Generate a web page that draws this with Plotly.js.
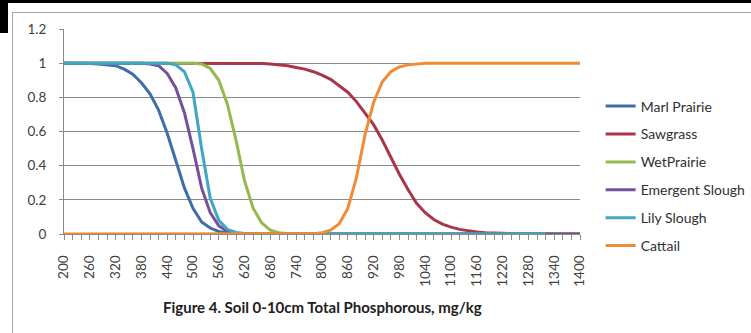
<!DOCTYPE html>
<html>
<head>
<meta charset="utf-8">
<script src="https://cdn.plot.ly/plotly-3.0.1.min.js"></script>
<style>
  html, body { margin: 0; padding: 0; background: #fff; }
  #wrap { position: relative; width: 751px; height: 333px; overflow: hidden; }
  #chart { position: absolute; left: 0; top: 0; width: 751px; height: 333px; }
  .deco { position: absolute; }
</style>
</head>
<body>
<div id="wrap">
  <div id="chart"></div>
  <div class="deco" style="left:12px; top:12px; width:739px; height:1px; background:#a6a6a6;"></div>
  <div class="deco" style="left:12px; top:12px; width:1px; height:321px; background:#a6a6a6;"></div>
  <div class="deco" style="left:0; top:0; width:751px; height:3px; background:#000;"></div>
  <div class="deco" style="left:0; top:0; width:8px; height:33px; background:#000;"></div>
</div>
<script>
const phosphorus = [200,220,240,260,280,300,320,340,360,380,400,420,440,460,480,500,520,540,560,580,600,620,640,660,680,700,720,740,760,780,800,820,840,860,880,900,920,940,960,980,1000,1020,1040,1060,1080,1100,1120,1140,1160,1180,1200,1220,1240,1260,1280,1300,1320,1340,1360,1380,1400];

const marlPrairie = [1,1,1,0.998,0.995,0.99,0.985,0.965,0.935,0.885,0.82,0.725,0.59,0.43,0.27,0.15,0.07,0.035,0.015,0.006,0.002,0.001,
  0,0,0,0,0,0,0,0,0,0,0,0,0,0,0,0,0,0,0,0,0,0,0,0,0,0,0,0,0,0,0,0,0,0,0,0,0,0,0];

const sawgrass = [1,1,1,1,1,1,1,1,1,1,1,1,1,1,1,1,1,1,1,1,1,1,1,
  0.998,0.995,0.99,0.985,0.975,0.965,0.95,0.93,0.905,0.87,0.83,0.775,0.71,0.64,0.55,0.45,0.35,0.26,0.18,0.125,0.085,0.058,0.04,0.027,0.018,0.012,0.008,0.005,0.003,0.001,
  0,0,0,0,0,0,0,0];

const wetPrairie = [1,1,1,1,1,1,1,1,1,1,1,1,1,1,1,1,
  0.995,0.97,0.9,0.76,0.55,0.31,0.15,0.065,0.022,0.007,0.002,
  0,0,0,0,0,0,0,0,0,0,0,0,0,0,0,0,0,0,0,0,0,0,0,0,0,0,0,0,0,0,0,0,0,0];

const emergentSlough = [1,1,1,1,1,1,1,1,1,1,
  0.995,0.985,0.94,0.855,0.71,0.5,0.27,0.125,0.048,0.016,0.005,0.002,
  0,0,0,0,0,0,0,0,0,0,0,0,0,0,0,0,0,0,0,0,0,0,0,0,0,0,0,0,0,0,0,0,0,0,0,0,0,0,0];

const lilySlough = [1,1,1,1,1,1,1,1,1,1,1,1,1,
  0.99,0.95,0.83,0.5,0.21,0.08,0.027,0.009,0.003,0.001,
  0,0,0,0,0,0,0,0,0,0,0,0,0,0,0,0,0,0,0,0,0,0,0,0,0,0,0,0,0,0,0,0,0,0];

const cattail = [0,0,0,0,0,0,0,0,0,0,0,0,0,0,0,0,0,0,0,0,0,0,0,0,0,0,0,0,0,
  0.002,0.008,0.022,0.06,0.15,0.33,0.58,0.77,0.89,0.95,0.978,0.99,0.996,
  1,1,1,1,1,1,1,1,1,1,1,1,1,1,1,1,1,1,1];

const seriesNames = ['Marl Prairie','Sawgrass','WetPrairie','Emergent Slough','Lily Slough','Cattail'];
const seriesValues = [marlPrairie, sawgrass, wetPrairie, emergentSlough, lilySlough, cattail];
const seriesColors = ['#3f6ea6','#a8374c','#95b84f','#74529a','#3fa6c4','#f08c35'];

const xTickVals = [200,260,320,380,440,500,560,620,680,740,800,860,920,980,1040,1100,1160,1220,1280,1340,1400];
const yTickVals = [0,0.2,0.4,0.6,0.8,1,1.2];
const yTickText = ['0','0.2','0.4','0.6','0.8','1','1.2'];
const chartTitle = 'Figure 4. Soil 0-10cm Total Phosphorous, mg/kg';

const FONT = 'Lato, "Open Sans", sans-serif';

const traces = seriesNames.map((name, i) => ({
  type: 'scatter',
  mode: 'lines',
  name: name,
  legendgroup: 'g' + i,
  x: phosphorus,
  y: seriesValues[i],
  line: { color: seriesColors[i], width: 3 },
  hoverinfo: 'x+y+name'
}));

const layout = {
  width: 751,
  height: 333,
  margin: { l: 64, r: 171, t: 29, b: 99, autoexpand: false },
  paper_bgcolor: 'rgba(0,0,0,0)',
  plot_bgcolor: '#fff',
  font: { family: FONT, size: 12, color: '#404040' },
  showlegend: true,
  legend: {
    x: 1.040, xanchor: 'left',
    y: 0.7, yanchor: 'top',
    bgcolor: 'rgba(0,0,0,0)',
    font: { family: FONT, size: 14, color: '#303030' },
    tracegroupgap: 6.7,
    itemwidth: 30
  },
  xaxis: {
    range: [200, 1400],
    tickmode: 'array',
    tickvals: xTickVals,
    ticktext: xTickVals.map(String),
    tickangle: -90,
    ticks: 'outside',
    ticklen: 5,
    tickcolor: '#8a8a8a',
    minor: { tickmode: 'linear', tick0: 200, dtick: 20, ticks: 'outside', ticklen: 5, tickcolor: '#8a8a8a', showgrid: false },
    showline: true,
    linecolor: '#8a8a8a',
    linewidth: 1,
    showgrid: false,
    zeroline: false,
    automargin: false,
    ticklabelstandoff: 10,
    tickfont: { family: FONT, size: 13.5, color: '#404040' }
  },
  yaxis: {
    range: [0, 1.2],
    tickmode: 'array',
    tickvals: yTickVals,
    ticktext: yTickText,
    ticks: 'outside',
    ticklen: 4,
    tickcolor: '#8a8a8a',
    showline: true,
    linecolor: '#8a8a8a',
    linewidth: 1,
    showgrid: true,
    gridcolor: '#8a8a8a',
    gridwidth: 1,
    zeroline: false,
    automargin: false,
    ticklabelstandoff: 10,
    tickfont: { family: FONT, size: 13.5, color: '#404040' }
  },
  annotations: [{
    xref: 'paper', yref: 'paper',
    x: 0.5, y: -0.356,
    xanchor: 'center', yanchor: 'middle',
    text: '<b>' + chartTitle + '</b>',
    showarrow: false,
    font: { family: FONT, size: 15, color: '#202020' }
  }]
};

Plotly.newPlot('chart', traces, layout, { displayModeBar: false, staticPlot: true });
</script>
</body>
</html>
